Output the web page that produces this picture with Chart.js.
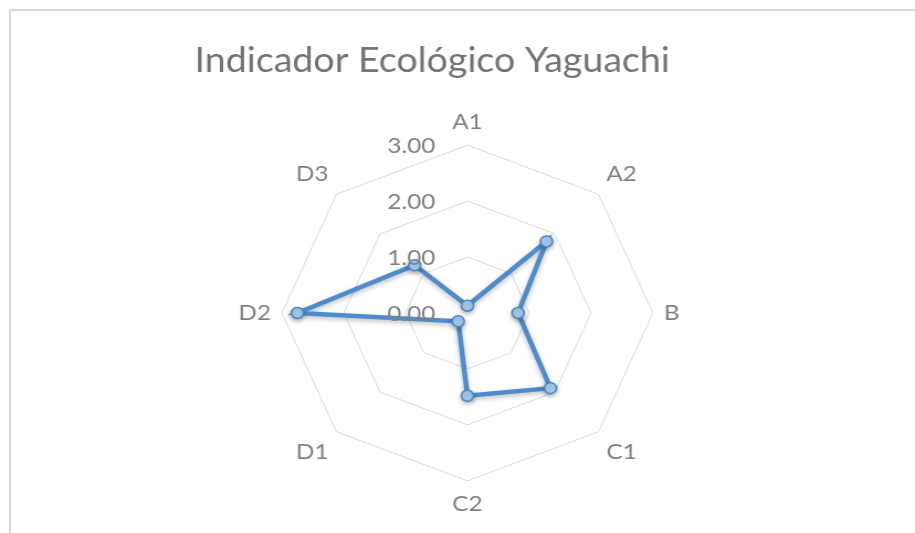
<!DOCTYPE html>
<html>
<head>
<meta charset="utf-8">
<script src="https://cdn.jsdelivr.net/npm/chart.js@4"></script>
<style>
    html, body { margin: 0; padding: 0; background: #fff; overflow: hidden; }
    #frame { position: absolute; left: 9px; top: 9px; width: 1000px; height: 600px;
             border-top: 2px solid #d6d6d6; border-left: 2px solid #d6d6d6; }
    /* the reference is stretched sideways, so the chart is too */
    #wrap { position: absolute; left: 0; top: 0; width: 828px; height: 533px;
            transform: scaleX(1.105); transform-origin: 0 0; }
</style>
</head>
<body>
<div id="frame"></div>
<div id="wrap"><canvas id="radarChart"></canvas></div>
<script>
const categories = ['A1', 'A2', 'B', 'C1', 'C2', 'D1', 'D2', 'D3'];
const values = [0.13, 1.81, 0.82, 1.90, 1.48, 0.21, 2.75, 1.21];
const tickValues = [0, 1, 2, 3];
const tickLabels = ['0.00', '1.00', '2.00', '3.00'];
const chartTitle = 'Indicador Ecológico Yaguachi';

const FONT = 'Lato, "Open Sans", sans-serif';

// Excel puts the value labels left of the first spoke, right aligned
const tickLabelPlugin = {
    id: 'tickLabels',
    afterDraw(chart) {
        const scale = chart.scales.r;
        const ctx = chart.ctx;
        ctx.save();
        ctx.font = '22px ' + FONT;
        ctx.fillStyle = '#808080';
        ctx.textAlign = 'right';
        ctx.textBaseline = 'middle';
        tickValues.forEach((v, i) => {
            const d = scale.getDistanceFromCenterForValue(v);
            ctx.fillText(tickLabels[i], scale.xCenter - 29, scale.yCenter - d + 1);
        });
        ctx.restore();
    }
};

// soft shadow under the series line
const shadowPlugin = {
    id: 'lineShadow',
    beforeDatasetDraw(chart) {
        const ctx = chart.ctx;
        ctx.save();
        ctx.shadowColor = 'rgba(0,0,0,0.28)';
        ctx.shadowBlur = 5;
        ctx.shadowOffsetY = 2;
    },
    afterDatasetDraw(chart) {
        chart.ctx.restore();
    }
};

const ctx = document.getElementById('radarChart').getContext('2d');
new Chart(ctx, {
    type: 'radar',
    data: {
        labels: categories,
        datasets: [{
            data: values,
            borderColor: '#4f8ccb',
            borderWidth: 4.5,
            backgroundColor: 'rgba(0,0,0,0)',
            fill: false,
            tension: 0,
            pointRadius: 5.5,
            pointBorderWidth: 1.5,
            pointBorderColor: '#4a86c5',
            pointBackgroundColor: '#a8cdf0'
        }]
    },
    options: {
        responsive: true,
        maintainAspectRatio: false,
        animation: false,
        layout: { padding: { left: 176, right: 158, top: 0, bottom: 15 } },
        plugins: {
            legend: { display: false },
            tooltip: { enabled: false },
            title: {
                display: true,
                text: chartTitle,
                align: 'start',
                color: '#737373',
                font: { family: FONT, size: 34, weight: 'normal' },
                padding: { top: 41, bottom: 27 }
            }
        },
        scales: {
            r: {
                min: 0,
                max: 3,
                ticks: { display: false, stepSize: 1 },
                angleLines: { display: false },
                grid: { color: '#d9d9d9', lineWidth: 1 },
                pointLabels: {
                    color: '#808080',
                    padding: 10,
                    font: { family: FONT, size: 22 }
                }
            }
        }
    },
    plugins: [tickLabelPlugin, shadowPlugin]
});
</script>
</body>
</html>
